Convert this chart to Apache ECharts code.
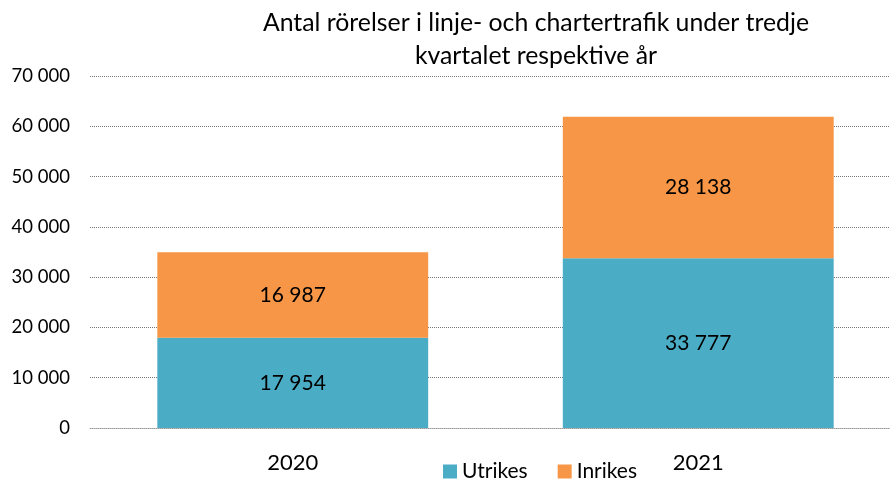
<!DOCTYPE html>
<html>
<head>
<meta charset="utf-8">
<script src="https://cdn.jsdelivr.net/npm/echarts@6/dist/echarts.min.js"></script>
<style>
  html, body { margin: 0; padding: 0; background: #fff; }
  #main { width: 890px; height: 487px; }
</style>
</head>
<body>
<div id="main"></div>
<script>
var years = ['2020', '2021'];
var utrikes = [17954, 33777];
var inrikes = [16987, 28138];
var yTicks = { min: 0, max: 70000, interval: 10000 };

function fmt(v) {
  return String(v).replace(/\B(?=(\d{3})+(?!\d))/g, ' ');
}

var chartDom = document.getElementById('main');
var myChart = echarts.init(chartDom);
var option;

var font = 'Lato';

option = {
  textStyle: { fontFamily: font },
  title: {
    text: 'Antal rörelser i linje- och chartertrafik under tredje\nkvartalet respektive år',
    left: 531,
    textAlign: 'center',
    top: 2,
    textStyle: { fontFamily: font, fontSize: 24.8, fontWeight: 'normal', color: '#000', lineHeight: 33 }
  },
  legend: {
    data: ['Utrikes', 'Inrikes'],
    bottom: 0,
    left: 438,
    itemWidth: 14,
    itemHeight: 14,
    itemGap: 30,
    icon: 'rect',
    textStyle: { fontFamily: font, fontSize: 21, color: '#000' }
  },
  grid: { left: 90, right: -11, top: 76, bottom: 59, containLabel: false, outerBoundsMode: 'none' },
  xAxis: {
    type: 'category',
    data: years,
    axisLine: { lineStyle: { color: '#999', type: 'dotted' } },
    axisTick: { show: false },
    axisLabel: { fontFamily: font, fontSize: 22, color: '#000', margin: 24 }
  },
  yAxis: {
    type: 'value',
    min: yTicks.min,
    max: yTicks.max,
    interval: yTicks.interval,
    axisLine: { show: false },
    axisTick: { show: false },
    splitLine: { lineStyle: { color: '#777', type: 'dotted', width: 1 } },
    axisLabel: { fontFamily: font, fontSize: 18.5, color: '#000', margin: 20, formatter: fmt }
  },
  series: [
    {
      name: 'Utrikes',
      type: 'bar',
      stack: 'total',
      barWidth: '66.8%',
      data: utrikes,
      itemStyle: { color: '#4BACC6' },
      label: { show: true, position: 'inside', fontFamily: font, fontSize: 21, color: '#000', formatter: function (p) { return fmt(p.value); } }
    },
    {
      name: 'Inrikes',
      type: 'bar',
      stack: 'total',
      barWidth: '66.8%',
      data: inrikes,
      itemStyle: { color: '#F79646' },
      label: { show: true, position: 'inside', fontFamily: font, fontSize: 21, color: '#000', formatter: function (p) { return fmt(p.value); } }
    }
  ]
};

option && myChart.setOption(option);
</script>
</body>
</html>
